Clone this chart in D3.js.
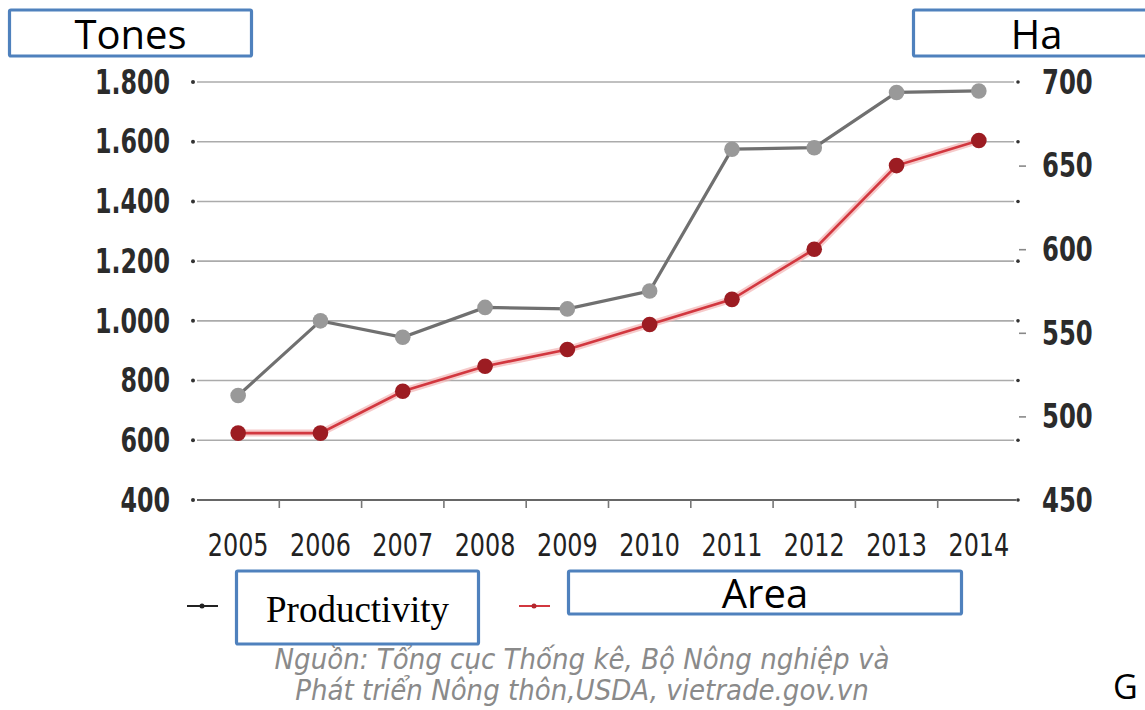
<!DOCTYPE html>
<html>
<head>
<meta charset="utf-8">
<script src="https://cdn.jsdelivr.net/npm/d3@7"></script>
<style>
  html, body { margin: 0; padding: 0; background: #ffffff; }
  svg { display: block; }
</style>
</head>
<body>
<svg id="chart" width="1145" height="710"></svg>
<script>
// Years on the x axis
const years = ["2005","2006","2007","2008","2009","2010","2011","2012","2013","2014"];
// Productivity (tones), left axis
const productivity = [750, 1000, 945, 1045, 1040, 1100, 1575, 1580, 1765, 1770];
// Area (ha), right axis
const area = [490, 490, 515, 530, 540, 555, 570, 600, 650, 665];
// Axis tick values
const leftTicks = [400, 600, 800, 1000, 1200, 1400, 1600, 1800];
const rightTicks = [450, 500, 550, 600, 650, 700];
// Texts
const unitLeft = "Tones";
const unitRight = "Ha";
const legendLabels = ["Productivity", "Area"];
const sourceLines = ["Nguồn: Tổng cục Thống kê, Bộ Nông nghiệp và",
                     "Phát triển Nông thôn,USDA, vietrade.gov.vn"];

const svg = d3.select("#chart");
const plot = { left: 197, right: 1020, top: 82, bottom: 500 };

const x = d3.scaleBand().domain(years).range([plot.left, plot.right]);
const yL = d3.scaleLinear().domain([400, 1800]).range([plot.bottom, plot.top]);
const yR = d3.scaleLinear().domain([450, 700]).range([plot.bottom, plot.top]);

const vn = d3.formatLocale({ decimal: ",", thousands: ".", grouping: [3], currency: ["", ""] });
const fmtThousands = vn.format(",");

const numFont = "'DejaVu Sans Condensed', 'DejaVu Sans', sans-serif";
const sansFont = "'Open Sans', Lato, sans-serif";

// Horizontal gridlines with a small dot at both ends
const grid = svg.append("g");
grid.selectAll("line.grid").data(leftTicks.slice(1)).join("line")
  .attr("x1", plot.left).attr("x2", plot.right - 6)
  .attr("y1", d => yL(d)).attr("y2", d => yL(d))
  .attr("stroke", "#ababab").attr("stroke-width", 1.6);
grid.selectAll("circle.l").data(leftTicks).join("circle")
  .attr("cx", plot.left - 4).attr("cy", d => yL(d)).attr("r", 2).attr("fill", "#333");
grid.selectAll("circle.r").data(leftTicks).join("circle")
  .attr("cx", plot.right - 2).attr("cy", d => yL(d)).attr("r", 1.8).attr("fill", "#333");

// Baseline
svg.append("line")
  .attr("x1", plot.left).attr("x2", plot.right - 4)
  .attr("y1", plot.bottom).attr("y2", plot.bottom)
  .attr("stroke", "#666").attr("stroke-width", 1.8);

// Left axis
const lScale = 0.8;
const gL = svg.append("g").attr("transform", `translate(${plot.left - 22},0)`)
  .call(d3.axisLeft(yL).tickValues(leftTicks).tickFormat(fmtThousands).tickSize(0).tickPadding(5));
gL.select(".domain").remove();
gL.selectAll("text")
  .attr("font-family", numFont).attr("font-weight", "bold")
  .attr("font-size", 33).attr("fill", "#2b2b2b").attr("dy", "0.34em")
  .attr("x", -5 / lScale).attr("transform", `scale(${lScale},1)`);

// Right axis (short dashes beside the labels)
const rScale = 0.82;
const gR = svg.append("g").attr("transform", `translate(${plot.right},0)`)
  .call(d3.axisRight(yR).tickValues(rightTicks).tickSize(0).tickPadding(22));
gR.select(".domain").remove();
gR.selectAll(".tick").filter(d => d !== 700 && d !== 450).append("line")
  .attr("x1", -1).attr("x2", 6).attr("stroke", "#888").attr("stroke-width", 1.6);
gR.selectAll("text")
  .attr("font-family", numFont).attr("font-weight", "bold")
  .attr("font-size", 33).attr("fill", "#2b2b2b").attr("dy", "0.34em")
  .attr("x", 22 / rScale).attr("transform", `scale(${rScale},1)`);

// Bottom axis: labels centred in bands, ticks at band boundaries
const gX = svg.append("g").attr("transform", `translate(0,${plot.bottom})`)
  .call(d3.axisBottom(x).tickSize(0).tickPadding(33));
gX.select(".domain").remove();
gX.selectAll("text")
  .attr("font-family", numFont).attr("font-size", 32).attr("fill", "#222")
  .attr("transform", "scale(0.83,1)");
svg.append("g").selectAll("line").data(years.slice(0, -1)).join("line")
  .attr("x1", d => x(d) + x.bandwidth()).attr("x2", d => x(d) + x.bandwidth())
  .attr("y1", plot.bottom).attr("y2", plot.bottom + 8)
  .attr("stroke", "#777").attr("stroke-width", 1.6);

const cx = d => x(d) + x.bandwidth() / 2;

// Productivity series
svg.append("path").datum(productivity)
  .attr("fill", "none").attr("stroke", "#707070").attr("stroke-width", 3.2)
  .attr("d", d3.line().x((d, i) => cx(years[i])).y(d => yL(d)));
svg.append("g").selectAll("circle").data(productivity).join("circle")
  .attr("cx", (d, i) => cx(years[i])).attr("cy", d => yL(d)).attr("r", 7.8)
  .attr("fill", "#999999");

// Area series (with a soft halo)
const areaLine = d3.line().x((d, i) => cx(years[i])).y(d => yR(d));
svg.append("path").datum(area)
  .attr("fill", "none").attr("stroke", "#f2b4b4").attr("stroke-width", 7).attr("opacity", 0.7)
  .attr("d", areaLine);
svg.append("path").datum(area)
  .attr("fill", "none").attr("stroke", "#d2373f").attr("stroke-width", 2.6)
  .attr("d", areaLine);
svg.append("g").selectAll("circle").data(area).join("circle")
  .attr("cx", (d, i) => cx(years[i])).attr("cy", d => yR(d)).attr("r", 7.8)
  .attr("fill", "#9c1c22");

// Legend markers
const legY = 606;
svg.append("line").attr("x1", 187).attr("x2", 218).attr("y1", legY).attr("y2", legY)
  .attr("stroke", "#222").attr("stroke-width", 2);
svg.append("circle").attr("cx", 202).attr("cy", legY).attr("r", 2.5).attr("fill", "#222");
svg.append("line").attr("x1", 519).attr("x2", 550).attr("y1", legY).attr("y2", legY)
  .attr("stroke", "#d2373f").attr("stroke-width", 2);
svg.append("circle").attr("cx", 534).attr("cy", legY).attr("r", 2.5).attr("fill", "#b3262d");

// Source note
svg.append("g").selectAll("text").data(sourceLines).join("text")
  .attr("x", 582).attr("y", (d, i) => 669 + i * 31)
  .attr("text-anchor", "middle")
  .attr("font-family", numFont).attr("font-style", "italic")
  .attr("font-size", 29).attr("fill", "#8a8a8a")
  .text(d => d);

// Label boxes
const boxStroke = "#4f81bd";
function labelBox(x0, y0, w, h, label, font, size, ty) {
  svg.append("rect").attr("x", x0).attr("y", y0).attr("width", w).attr("height", h)
    .attr("fill", "#fff").attr("stroke", boxStroke).attr("stroke-width", 3.2).attr("rx", 1.5);
  svg.append("text").attr("x", x0 + w / 2).attr("y", ty)
    .attr("text-anchor", "middle").attr("font-family", font).attr("font-size", size)
    .attr("fill", "#000").text(label);
}
labelBox(9.5, 10, 242, 46, unitLeft, sansFont, 40, 49);
labelBox(913.5, 10, 246, 46, unitRight, sansFont, 40, 49);
labelBox(236.5, 571, 242, 73, legendLabels[0], "'Liberation Serif', 'Times New Roman', serif", 37, 622);
labelBox(568.5, 571, 393, 43, legendLabels[1], sansFont, 40, 608);

// Caption letter at the lower right edge
svg.append("text").attr("x", 1113).attr("y", 699)
  .attr("font-family", sansFont).attr("font-size", 34).attr("fill", "#000").text("G");
</script>
</body>
</html>
